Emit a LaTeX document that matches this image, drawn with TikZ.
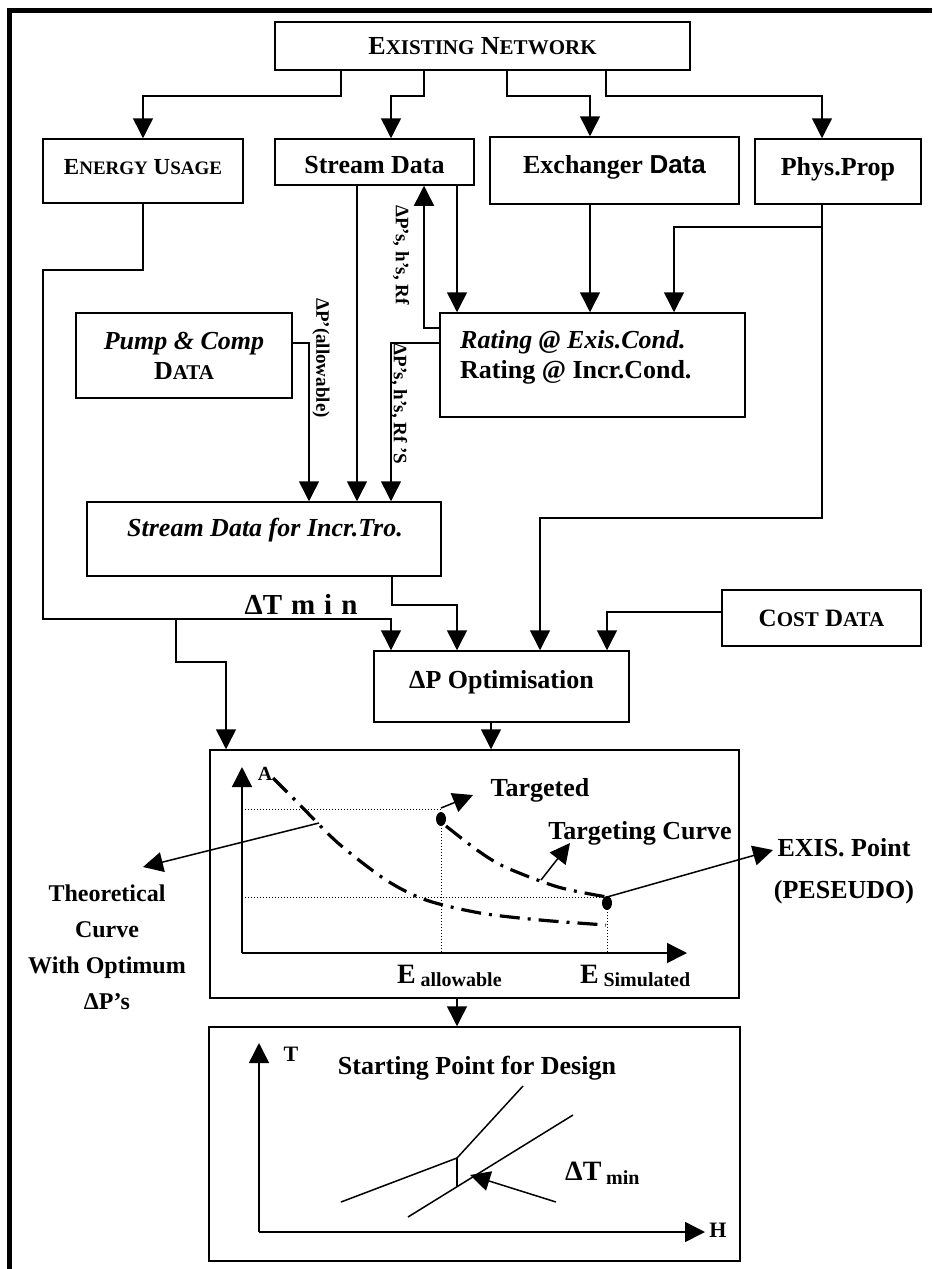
\documentclass[tikz,border=0pt]{standalone}
\usepackage{fontspec}
\setmainfont{Liberation Serif}
\setsansfont{Liberation Sans}
\usetikzlibrary{shapes, arrows.meta, positioning}
\newcommand{\fsz}[1]{\fontsize{#1}{#1}\selectfont}
\newcommand{\smc}[3][21]{#2{\fsz{#1}#3}}
\newcommand{\lift}[2]{\raisebox{#1}[18pt][6pt]{#2}}

\begin{document}
\begin{tikzpicture}[x=1pt,y=-1pt]
            \tikzset{box/.style = {draw, line width=1.5pt, inner sep=0pt, font=\fsz{26}\bfseries},
                     edge/.style = {line width=1.5pt, -{Triangle[width=20pt,length=20pt]}},
                     wire/.style = {line width=1.5pt},
                     txt/.style = {inner sep=0pt, font=\fsz{26}\bfseries},
                     side/.style = {inner sep=0pt, rotate=-90, font=\fsz{19}\bfseries},
                     curve/.style = {line width=3.2pt, dash pattern=on 20pt off 8pt on 3pt off 8pt},
                     guide/.style = {line width=1pt, dotted}}
            \useasboundingbox (0,0) rectangle (932,1269);
            % frame
            \draw[line width=5pt] (9,1269) -- (9,10) -- (932,10);
            % vertices
            \node[box, minimum width=415pt, minimum height=48pt] (net) at (482.5,46) {\smc{E}{XISTING} \smc{N}{ETWORK}};
            \node[box, minimum width=200pt, minimum height=64pt, font=\fsz{23}\bfseries] (eu) at (143,171) {\lift{3pt}{\smc[19]{E}{NERGY} \smc[19]{U}{SAGE}}};
            \node[box, minimum width=199pt, minimum height=46pt] (sd) at (374.5,162) {\lift{-5pt}{Stream Data}};
            \node[box, minimum width=249pt, minimum height=67pt] (xd) at (614.5,170.5) {\lift{3pt}{Exchanger {\sffamily Data}}};
            \node[box, minimum width=166pt, minimum height=65pt] (pp) at (838,171.5) {\lift{2pt}{Phys.Prop}};
            \node[box, minimum width=216pt, minimum height=85pt, align=center, font=\fontsize{26}{30}\selectfont\bfseries] (pump) at (184,355.5) {\textit{Pump \& Comp}\\\smc{D}{ATA}};
            \node[box, minimum width=305pt, minimum height=104pt] (rat) at (592.5,365) {};
            \node[txt, anchor=west, align=left, font=\fontsize{26}{30}\selectfont\bfseries] (ratt) at (460,357) {\textit{Rating @ Exis.Cond.}\\Rating @ Incr.Cond.};
            \node[box, minimum width=354pt, minimum height=74pt] (sdi) at (264,539) {};
            \node[txt] (sdit) at (265,530) {\textit{Stream Data for Incr.Tro.}};
            \node[box, minimum width=199pt, minimum height=56pt, font=\fsz{25}\bfseries] (cost) at (821.5,618) {\smc{C}{OST} \smc{D}{ATA}};
            \node[box, minimum width=255pt, minimum height=71pt] (dpo) at (501.5,686.5) {\lift{4pt}{ΔP Optimisation}};
            \node[box, minimum width=529pt, minimum height=248pt] (gbox) at (474.5,874) {};
            \node[box, minimum width=531pt, minimum height=234pt] (bbox) at (474.5,1144) {};
            \node[txt, font=\fsz{29}\bfseries] (dtm) at (301,604) {ΔT\hspace{9pt}m\hspace{9pt}i\hspace{9pt}n};
            \node[side] (fb1) at (401,255) {ΔP’s, h’s, Rf};
            \node[side] (fb2) at (399,404) {ΔP’s, h’s, Rf ’S};
            \node[side] (pal) at (321,358) {ΔP’(allowable)};
            \coordinate (tm) at (176,619);
            \coordinate (pj) at (822,227);
            %edges
            \draw[edge] ([xshift=-141.5pt]net.south) -- ++(0,25) -| (eu.north);
            \draw[edge] ([xshift=-58.5pt]net.south) -- ++(0,25) -| ([xshift=16.5pt]sd.north);
            \draw[edge] ([xshift=24.5pt]net.south) -- ++(0,25) -| ([xshift=-24.5pt]xd.north);
            \draw[edge] ([xshift=123.5pt]net.south) -- ++(0,25) -| ([xshift=-16pt]pp.north);
            \draw[edge] (eu.south) -- ++(0,66) -| (43,619) -| ([xshift=-110.5pt]dpo.north);
            \draw[edge] (tm) -- ++(0,43) -| ([xshift=-248.5pt]gbox.north);
            \draw[edge] ([yshift=12.5pt]pump.east) -| ([xshift=45pt]sdi.north);
            \draw[edge] ([xshift=-17.5pt]sd.south) -- ([xshift=93pt]sdi.north);
            \draw[edge] ([xshift=82.5pt]sd.south) -- ([xshift=-135.5pt]rat.north);
            \draw[edge] ([xshift=-24.5pt]xd.south) -- ([xshift=-2.5pt]rat.north);
            \draw[edge] ([xshift=-16pt]pp.south) -- ++(0,313) -| ([xshift=38.5pt]dpo.north);
            \draw[edge] (pj) -| ([xshift=81.5pt]rat.north);
            \draw[edge] ([yshift=37pt]rat.west) -| ([xshift=49.5pt]sd.south);
            \draw[edge] ([yshift=22pt]rat.west) -| ([xshift=127pt]sdi.north);
            \draw[edge] ([xshift=128pt]sdi.south) -- ++(0,28) -| ([xshift=-44.5pt]dpo.north);
            \draw[edge] ([yshift=6pt]cost.west) -| ([xshift=105.5pt]dpo.north);
            \draw[edge] ([xshift=-10.5pt]dpo.south) -- ([xshift=16.5pt]gbox.north);
            \draw[edge] ([xshift=-17.5pt]gbox.south) -- ([xshift=-17.5pt]bbox.north);
            % area vs energy plot
            \coordinate (o1) at (242,953);
            \coordinate (tg) at (441,819);
            \coordinate (ex) at (607,903);
            \draw[edge] (o1) -- (242,767);
            \draw[edge] (o1) -- (687,953);
            \node[txt, font=\fsz{20}\bfseries] (ya) at (265,774) {A};
            \draw[guide] (242,809) -- (441,809);
            \draw[guide] (tg) -- (441,953);
            \draw[guide] (242,897) -- (607,897);
            \draw[guide] (ex) -- (607,953);
            \fill (tg) ellipse [x radius=5pt, y radius=7pt];
            \fill (ex) ellipse [x radius=5pt, y radius=7pt];
            \draw[curve] plot[smooth] coordinates {(273,778) (300,805) (338,843) (386,880) (426,900) (480,913) (540,920) (606,925)};
            \draw[curve] plot[smooth] coordinates {(446,826) (477,850) (505,867) (558,887) (607,897)};
            \draw[edge] (441,808) -- (473,795);
            \node[txt] (tgl) at (540,790) {Targeted};
            \draw[edge] (541,880) -- (570,843);
            \node[txt] (tcl) at (640,833) {Targeting Curve};
            \draw[edge] (607,897) -- (773,850);
            \node[txt, align=center, font=\fontsize{26}{42}\selectfont\bfseries] (exl) at (844,871) {EXIS. Point\\(PESEUDO)};
            \draw[edge] (319,823) -- (143,867);
            \node[txt, align=center, font=\fontsize{24}{36}\selectfont\bfseries] (thl) at (107,947) {Theoretical\\Curve\\With Optimum\\ΔP’s};
            \node[txt, anchor=base west, font=\fsz{28}\bfseries] (eal) at (397,983) {E\,\raisebox{-3pt}{\fsz{20}allowable}};
            \node[txt, anchor=base west, font=\fsz{28}\bfseries] (esl) at (580,983) {E\,\raisebox{-3pt}{\fsz{20}Simulated}};
            % temperature vs enthalpy plot
            \coordinate (o2) at (259,1232);
            \draw[edge] (o2) -- (259,1043);
            \draw[edge] (o2) -- (705,1232);
            \node[txt, font=\fsz{22}\bfseries] (tl) at (291,1054) {T};
            \node[txt, font=\fsz{22}\bfseries] (hl) at (718,1230) {H};
            \node[txt] (spl) at (477,1068) {Starting Point for Design};
            \draw[wire] (341,1202) -- (457,1158) -- (523,1086);
            \draw[wire] (408,1217) -- (573,1115);
            \draw[wire] (457,1158) -- (457,1187);
            \draw[edge] (556,1202) -- (470,1175);
            \node[txt, anchor=base west, font=\fsz{28}\bfseries] (dtl) at (565,1180) {ΔT\,\raisebox{-4pt}{\fsz{20}min}};
        \end{tikzpicture}
\end{document}
